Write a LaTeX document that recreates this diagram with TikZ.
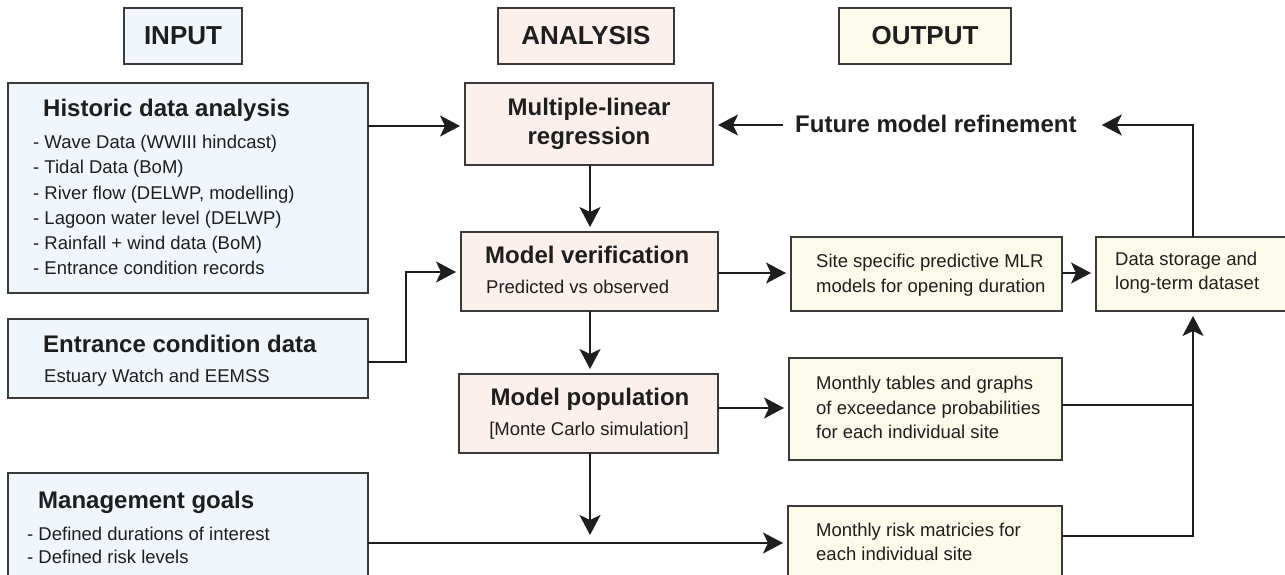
\documentclass[tikz,border=0pt]{standalone}
\usepackage{fontspec}
\setmainfont{Liberation Sans}
\usetikzlibrary{arrows.meta}
\definecolor{inbg}{HTML}{F0F6FC}
\definecolor{anbg}{HTML}{FCF0EC}
\definecolor{outbg}{HTML}{FCFAEA}
\definecolor{edge}{HTML}{3A3A3A}
\definecolor{txt}{HTML}{1E1E1E}
\begin{document}
\begin{tikzpicture}[x=1pt,y=-1pt,
 box/.style={draw=edge, line width=1.8pt, inner sep=0pt, outer sep=0pt},
 hdr/.style={box, font=\fontsize{26}{30}\selectfont\bfseries, text=txt},
 ttl/.style={anchor=base west, inner sep=0pt, font=\fontsize{24}{28}\selectfont\bfseries, text=txt},
 ttlc/.style={ttl, anchor=base},
 ln/.style={anchor=base west, inner sep=0pt, font=\fontsize{18.5}{25}\selectfont, text=txt},
 lnc/.style={ln, anchor=base},
 arr/.style={draw=txt, line width=2pt, -{Stealth[length=20pt,width=21pt,inset=5pt]}, shorten >=5pt},
 con/.style={draw=txt, line width=2pt}]
\useasboundingbox (0,0) rectangle (1285,575);
\clip (0,0) rectangle (1285,575);
\fill[white] (0,0) rectangle (1285,575);

% headers
\node[hdr, fill=inbg, minimum width=118pt, minimum height=56pt] (inputH) at (183,36) {INPUT};
\node[hdr, fill=anbg, minimum width=176pt, minimum height=56pt] (analysisH) at (586,36) {ANALYSIS};
\node[hdr, fill=outbg, minimum width=172pt, minimum height=56pt] (outputH) at (925,36) {OUTPUT};

% input boxes
\node[box, fill=inbg, minimum width=360pt, minimum height=210pt] (hist) at (188,188) {};
\node[ttl] (histT) at (43,117) {Historic data analysis};
\node[ln] (h1) at (33,149) {- Wave Data (WWIII hindcast)};
\node[ln] (h2) at (33,174) {- Tidal Data (BoM)};
\node[ln] (h3) at (33,199) {- River flow (DELWP, modelling)};
\node[ln] (h4) at (33,224) {- Lagoon water level (DELWP)};
\node[ln] (h5) at (33,249) {- Rainfall + wind data (BoM)};
\node[ln] (h6) at (33,274) {- Entrance condition records};

\node[box, fill=inbg, minimum width=360pt, minimum height=79pt] (ent) at (188,358.5) {};
\node[ttl] (entT) at (43,352) {Entrance condition data};
\node[ln] (e1) at (44,382) {Estuary Watch and EEMSS};

\node[box, fill=inbg, minimum width=360pt, minimum height=117pt] (mgmt) at (188,531.5) {};
\node[ttl] (mgmtT) at (38,508) {Management goals};
\node[ln] (m1) at (27,540) {- Defined durations of interest};
\node[ln] (m2) at (27,563) {- Defined risk levels};

% analysis boxes
\node[box, fill=anbg, minimum width=248pt, minimum height=82pt] (mlr) at (589,124) {};
\node[ttlc] (mlrT1) at (589,116) {Multiple-linear};
\node[ttlc] (mlrT2) at (589,145) {regression};

\node[box, fill=anbg, minimum width=257pt, minimum height=79pt] (mv) at (589.5,271.5) {};
\node[ttl] (mvT) at (485,263) {Model verification};
\node[ln] (mv1) at (486,293) {Predicted vs observed};

\node[box, fill=anbg, minimum width=259pt, minimum height=79pt] (mp) at (588.5,413.5) {};
\node[ttlc] (mpT) at (590,405) {Model population};
\node[lnc] (mp1) at (589,435) {[Monte Carlo simulation]};

% output boxes
\node[box, fill=outbg, minimum width=271pt, minimum height=74pt] (site) at (926.5,274) {};
\node[ln] (s1) at (816,267) {Site specific predictive MLR};
\node[ln] (s2) at (816,292) {models for opening duration};

\node[box, fill=outbg, minimum width=273pt, minimum height=102pt] (tab) at (925.5,409) {};
\node[ln] (t1) at (816,389) {Monthly tables and graphs};
\node[ln] (t2) at (816,414) {of exceedance probabilities};
\node[ln] (t3) at (816,438) {for each individual site};

\node[box, fill=outbg, minimum width=274pt, minimum height=84pt] (risk) at (925,548) {};
\node[ln] (r1) at (816,536) {Monthly risk matricies for};
\node[ln] (r2) at (816,560) {each individual site};

\node[box, fill=outbg, minimum width=204pt, minimum height=74pt] (ds) at (1198,274) {};
\node[ln] (d1) at (1115,265) {Data storage and};
\node[ln] (d2) at (1115,289) {long-term dataset};

\node[ttl] (fut) at (795,133) {Future model refinement};

% connector helper coordinates
\coordinate (entbend1) at (406,362);
\coordinate (entbend2) at (406,272);
\coordinate (mpend) at (590,540);
\coordinate (junc) at (1193,405);
\coordinate (riskbend) at (1193,536);
\coordinate (dstop) at (1193,125);

% connectors
\draw[arr] (hist.east |- 0,126) -- (mlr.west |- 0,126);
\draw[arr] (ent.east |- entbend1) -- (entbend1) -- (entbend2) -- (mv.west |- entbend2);
\draw[arr] (mlr.south -| 590,0) -- (mv.north -| 590,0);
\draw[arr] (mv.south -| 590,0) -- (mp.north -| 590,0);
\draw[arr] (mp.south -| 590,0) -- (mpend);
\draw[arr] (mv.east |- 0,273) -- (site.west |- 0,273);
\draw[arr] (site.east |- 0,273) -- (ds.west |- 0,273);
\draw[arr] (mp.east |- 0,408) -- (tab.west |- 0,408);
\draw[arr] (mgmt.east |- 0,543) -- (risk.west |- 0,543);
\draw[con] (tab.east |- junc) -- (junc);
\draw[arr] (risk.east |- riskbend) -- (riskbend) -- (ds.south -| riskbend);
\draw[arr] (ds.north -| dstop) -- (dstop) -- ([xshift=20pt]fut.east |- dstop);
\draw[arr] ([xshift=-12pt]fut.west |- dstop) -- (mlr.east |- dstop);
\end{tikzpicture}
\end{document}
